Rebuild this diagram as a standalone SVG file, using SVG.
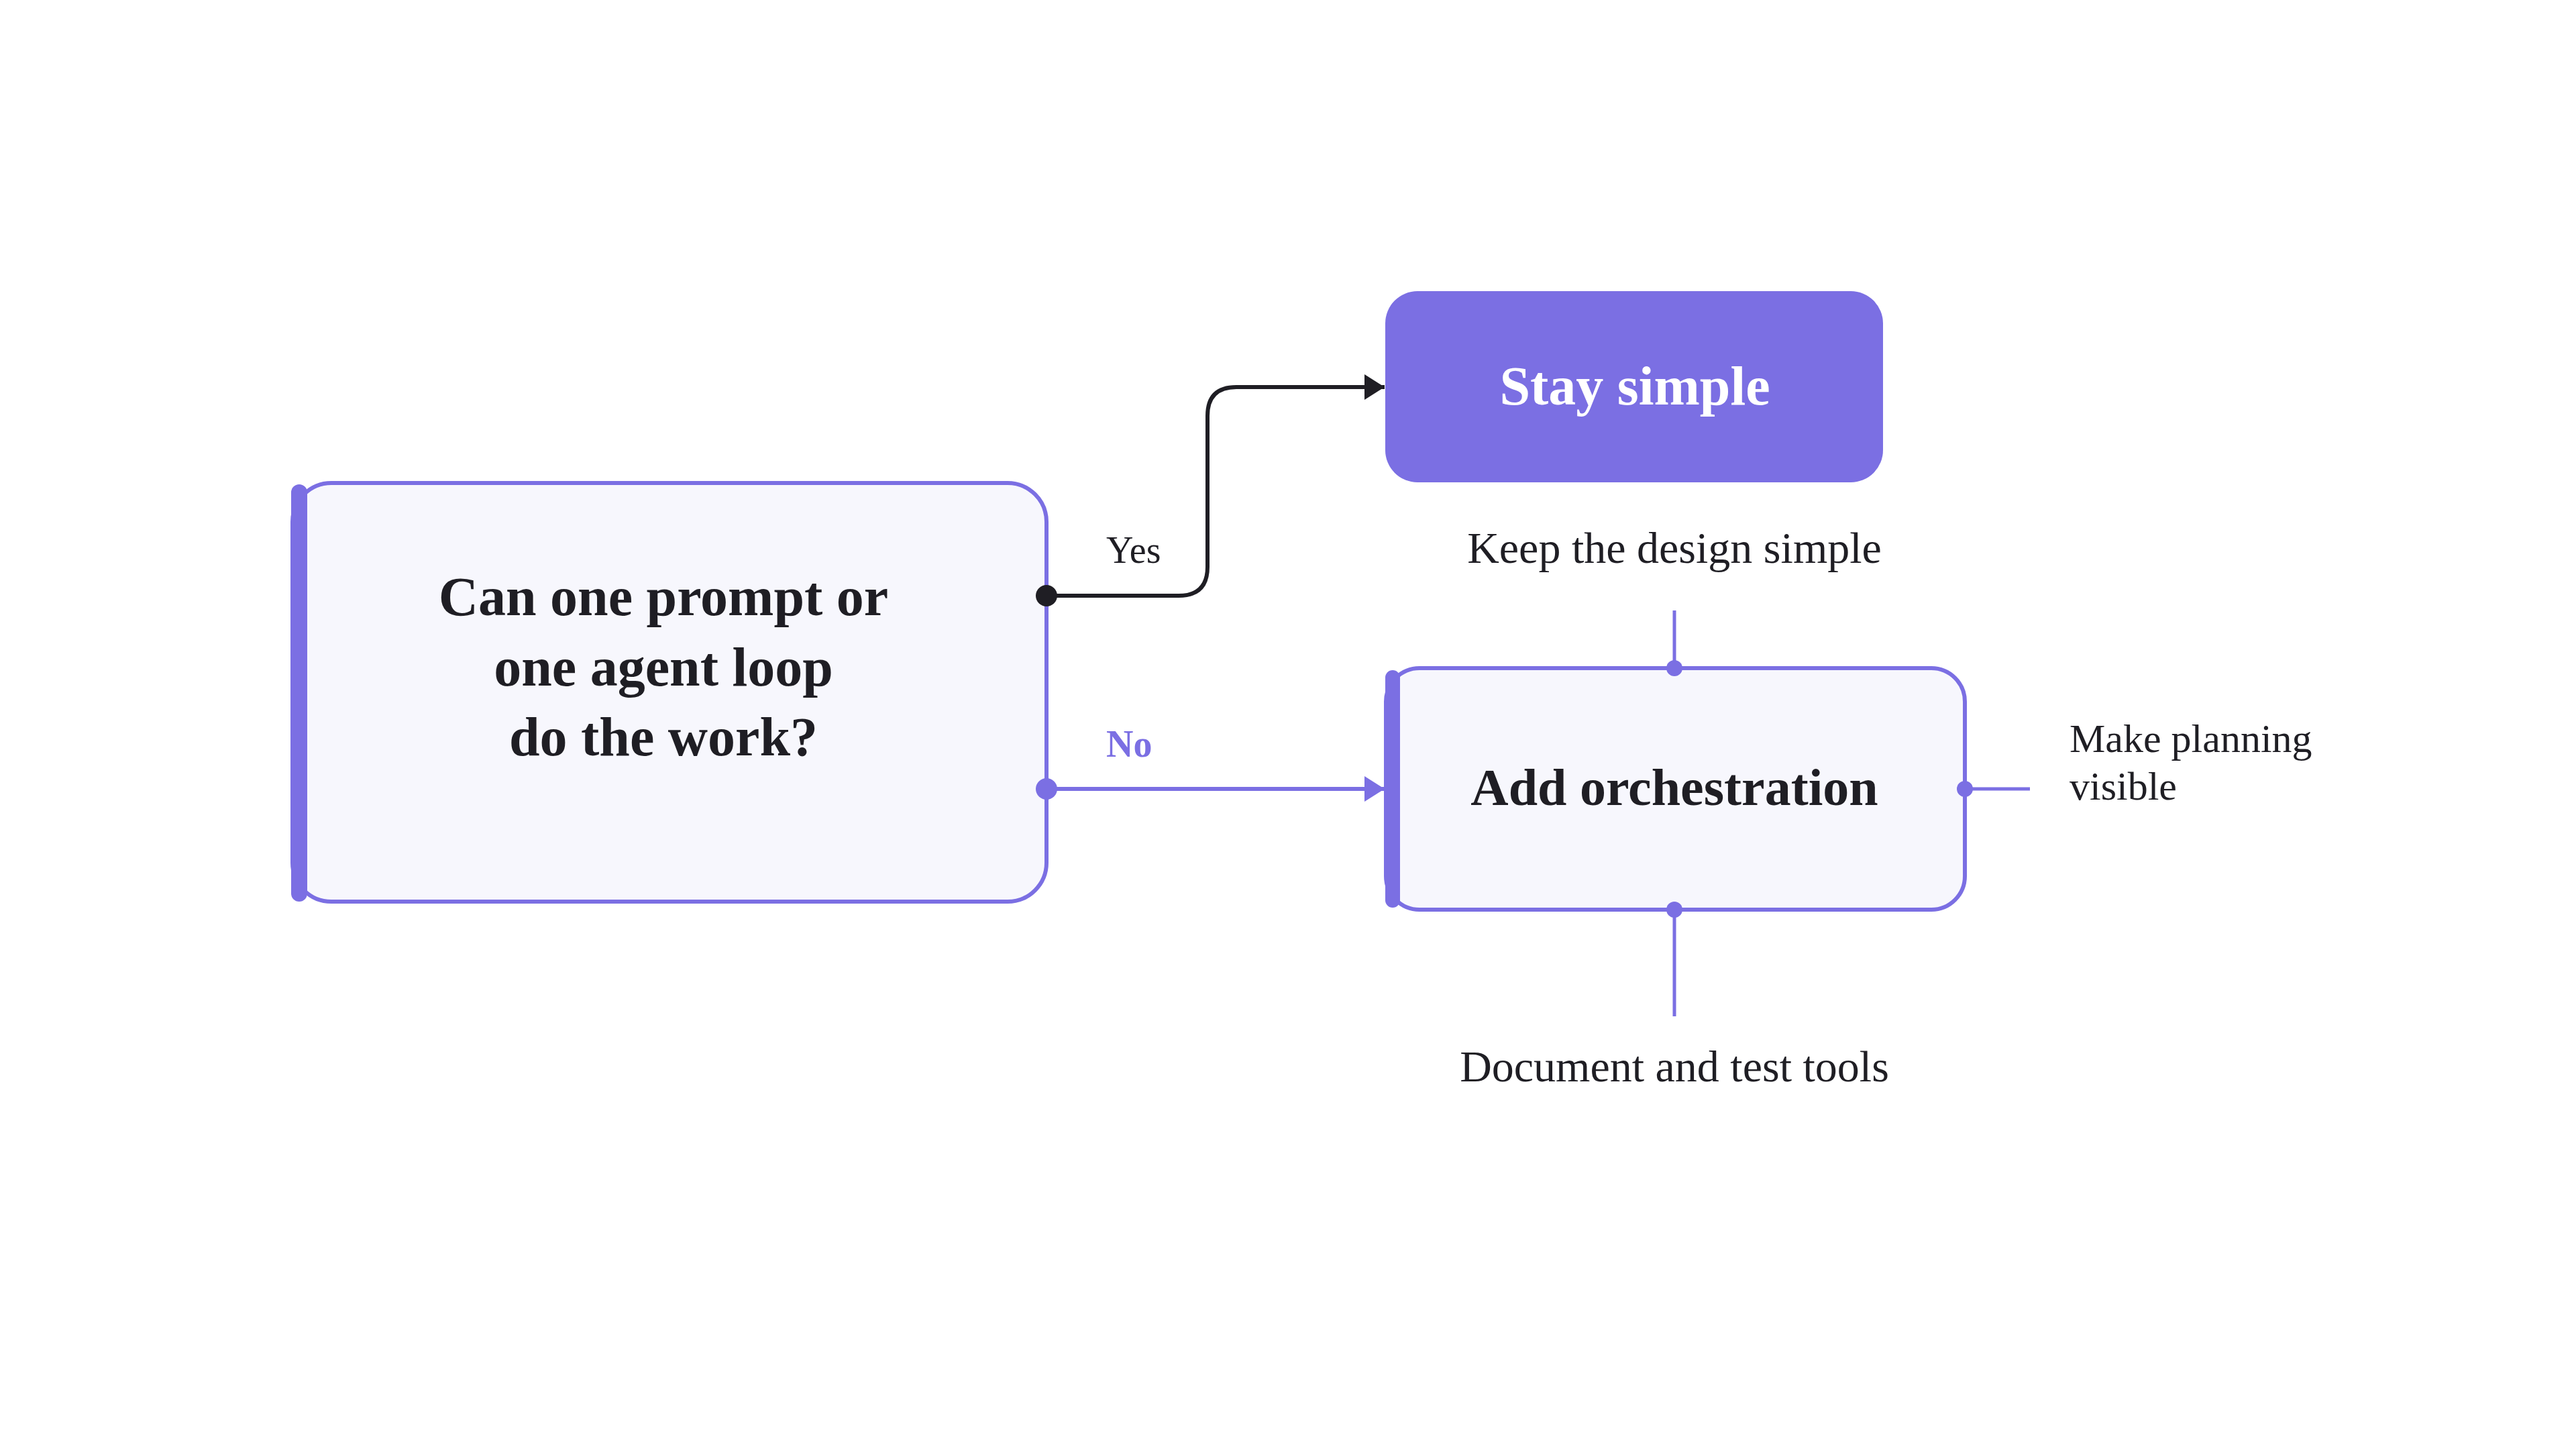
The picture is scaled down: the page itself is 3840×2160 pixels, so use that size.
<svg xmlns="http://www.w3.org/2000/svg" width="3840" height="2160" viewBox="0 0 3840 2160">
<defs>
<style>
.box{fill:#F7F7FD;stroke:#7B6FE3;stroke-width:6}
.bar{stroke:#7B6FE3;stroke-width:24;stroke-linecap:round;fill:none}
.t{font-family:"Liberation Serif","Times New Roman",serif;fill:#1F1E24}
.b{font-weight:bold}
.stub{stroke:#7B6FE3;stroke-width:5;fill:none}
.pdot{fill:#7B6FE3}
</style>
<marker id="arrK" viewBox="0 0 30 38" refX="30" refY="19" markerWidth="30" markerHeight="38" markerUnits="userSpaceOnUse" orient="auto">
<polygon points="0,0 30,19 0,38" fill="#1F1E24"/>
</marker>
<marker id="arrP" viewBox="0 0 30 38" refX="30" refY="19" markerWidth="30" markerHeight="38" markerUnits="userSpaceOnUse" orient="auto">
<polygon points="0,0 30,19 0,38" fill="#7B6FE3"/>
</marker>
</defs>
<rect width="3840" height="2160" fill="#FFFFFF"/>

<g id="node-question">
<rect class="box" x="436" y="720" width="1124" height="624" rx="58"/>
<line class="bar" x1="446" y1="734" x2="446" y2="1332"/>
<text class="t b" font-size="82" text-anchor="middle"><tspan x="989" y="917">Can one prompt or</tspan><tspan x="989" y="1022">one agent loop</tspan><tspan x="989" y="1126">do the work?</tspan></text>
</g>

<g id="node-stay-simple">
<rect x="2065" y="434" width="742" height="285" rx="48" fill="#7B6FE3"/>
<text class="t b" x="2437" y="603" font-size="82" text-anchor="middle" style="fill:#FFFFFF">Stay simple</text>
</g>

<g id="note-keep">
<text class="t" x="2496" y="839" font-size="66" text-anchor="middle">Keep the design simple</text>
</g>

<g id="node-orchestration">
<rect class="box" x="2066" y="996" width="863" height="360" rx="50"/>
<line class="bar" x1="2076" y1="1010" x2="2076" y2="1342" style="stroke-width:22"/>
<text class="t b" x="2496" y="1200" font-size="78" text-anchor="middle">Add orchestration</text>
</g>

<g id="note-planning">
<text class="t" font-size="60"><tspan x="3085" y="1121">Make planning</tspan><tspan x="3085" y="1192">visible</tspan></text>
</g>

<g id="note-document">
<text class="t" x="2496" y="1612" font-size="66" text-anchor="middle">Document and test tools</text>
</g>

<g id="connectors">
<path d="M1560,888 H1757 Q1800,888 1800,845 V620 Q1800,577 1843,577 H2064" fill="none" stroke="#1F1E24" stroke-width="6" marker-end="url(#arrK)"/>
<circle cx="1560" cy="888" r="16" fill="#1F1E24"/>
<path d="M1560,1176 H2064" fill="none" stroke="#7B6FE3" stroke-width="6" marker-end="url(#arrP)"/>
<circle cx="1560" cy="1176" r="16" class="pdot"/>
<text class="t" x="1649" y="839" font-size="56">Yes</text>
<text class="t b" x="1649" y="1128" font-size="56" style="fill:#7B6FE3">No</text>
<path class="stub" d="M2496,910 V996"/>
<circle class="pdot" cx="2496" cy="996" r="12"/>
<path class="stub" d="M2496,1356 V1515"/>
<circle class="pdot" cx="2496" cy="1356" r="12"/>
<path class="stub" d="M2929,1176 H3026"/>
<circle class="pdot" cx="2929" cy="1176" r="12"/>
</g>
</svg>
